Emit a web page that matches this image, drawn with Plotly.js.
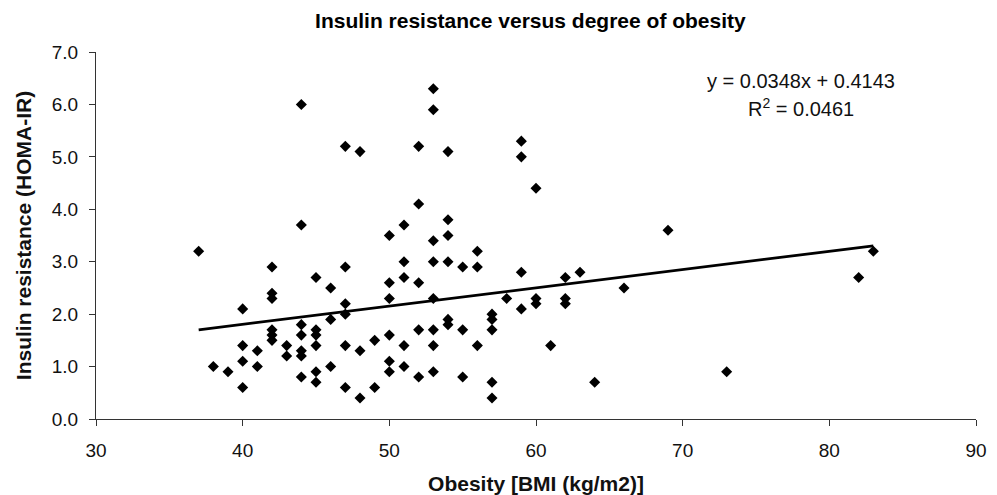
<!DOCTYPE html>
<html>
<head>
<meta charset="utf-8">
<script src="https://cdn.plot.ly/plotly-3.0.1.min.js"></script>
<style>html,body{margin:0;padding:0;background:#fff;}#chart{width:997px;height:495px;}</style>
</head>
<body>
<div id="chart"></div>
<script>
// BMI (kg/m2) values
const bmi = [44,47,48,44,50,37,42,45,47,46,42,42,50,50,40,47,47,46,44,44,45,45,42,42,42,40,41,43,45,47,48,49,50,44,44,43,38,39,40,41,46,50,50,44,45,45,40,47,49,48,
  53,53,52,54,59,59,60,52,51,54,54,53,69,56,51,53,54,55,56,59,51,52,62,63,66,53,58,60,60,62,62,59,57,57,54,54,52,53,55,57,51,53,56,61,51,52,53,55,57,57,64,83,82,73];
// HOMA-IR values
const homa = [6.0,5.2,5.1,3.7,3.5,3.2,2.9,2.7,2.9,2.5,2.4,2.3,2.6,2.3,2.1,2.2,2.0,1.9,1.8,1.6,1.7,1.6,1.7,1.6,1.5,1.4,1.3,1.4,1.4,1.4,1.3,1.5,1.6,1.3,1.2,1.2,1.0,0.9,1.1,1.0,1.0,1.1,0.9,0.8,0.9,0.7,0.6,0.6,0.6,0.4,
  6.3,5.9,5.2,5.1,5.3,5.0,4.4,4.1,3.7,3.8,3.5,3.4,3.6,3.2,3.0,3.0,3.0,2.9,2.9,2.8,2.7,2.6,2.7,2.8,2.5,2.3,2.3,2.3,2.2,2.3,2.2,2.1,2.0,1.9,1.9,1.8,1.7,1.7,1.7,1.7,1.4,1.4,1.4,1.4,1.0,0.8,0.9,0.8,0.7,0.4,0.7,3.2,2.7,0.9];
// Trendline coefficients (from the chart's equation)
const slope = 0.0348;
const intercept = 0.4143;
const trendX = [Math.min(...bmi), Math.max(...bmi)];
const trendY = trendX.map(v => slope * v + intercept);
const xTicks = [30,40,50,60,70,80,90];
const yTicks = [0,1,2,3,4,5,6,7];

const font = "Liberation Sans, Arial, sans-serif";
const data = [
  {x: bmi, y: homa, type: 'scatter', mode: 'markers',
   marker: {symbol: 'diamond', size: 8.5, color: '#000'}, hoverinfo: 'x+y'},
  {x: trendX, y: trendY, type: 'scatter', mode: 'lines',
   line: {color: '#000', width: 2.8}, hoverinfo: 'skip'}
];
const layout = {
  width: 997, height: 495,
  margin: {l: 96, r: 21, t: 52, b: 76},
  paper_bgcolor: '#fff', plot_bgcolor: '#fff',
  showlegend: false,
  font: {family: font, color: '#000', size: 19},
  title: {text: '<b>Insulin resistance versus degree of obesity</b>', font: {size: 21, family: font, color: '#000'},
          x: 0.532, xref: 'container', xanchor: 'center', y: 0.959, yref: 'container', yanchor: 'middle'},
  xaxis: {range: [30, 90], tickvals: xTicks, ticks: 'outside', ticklen: 6, tickcolor: '#333',
          ticklabelstandoff: 8,
          showline: true, linecolor: '#333', linewidth: 1, showgrid: false, zeroline: false,
          tickfont: {size: 19, family: font, color: '#111'},
          title: {text: '<b>Obesity [BMI (kg/m2)]</b>', font: {size: 21, family: font, color: '#111'}, standoff: 17}},
  yaxis: {range: [0, 7], tickvals: yTicks, tickformat: '.1f', ticks: 'outside', ticklen: 6, tickcolor: '#333',
          ticklabelstandoff: 7,
          showline: true, linecolor: '#333', linewidth: 1, showgrid: false, zeroline: false,
          tickfont: {size: 19, family: font, color: '#111'},
          title: {text: '<b>Insulin resistance (HOMA-IR)</b>', font: {size: 21, family: font, color: '#111'}, standoff: 14}},
  annotations: [
    {x: 78.1, y: 6.45, xref: 'x', yref: 'y', text: 'y = 0.0348x + 0.4143', showarrow: false,
     xanchor: 'center', yanchor: 'middle', font: {size: 20, family: font, color: '#111'}},
    {x: 78.1, y: 5.95, xref: 'x', yref: 'y', text: 'R<sup>2</sup> = 0.0461', showarrow: false,
     xanchor: 'center', yanchor: 'middle', font: {size: 20, family: font, color: '#111'}}
  ]
};
Plotly.newPlot('chart', data, layout, {displayModeBar: false, staticPlot: true});
</script>
</body>
</html>
